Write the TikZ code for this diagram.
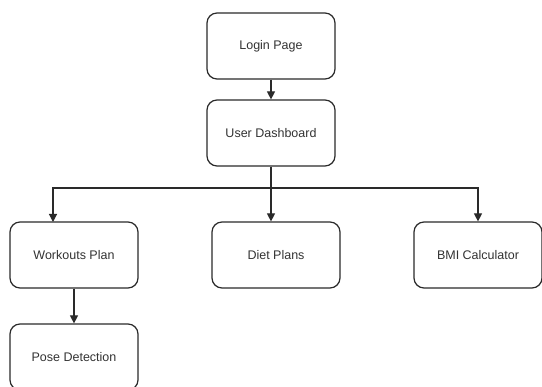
\documentclass[tikz,border=0pt]{standalone}
\usepackage{fontspec}
\setmainfont{Liberation Sans}
\usepackage{tikz}
\usetikzlibrary{arrows.meta}
\usetikzlibrary{calc}

\definecolor{edge}{HTML}{2A2A2A}
\definecolor{label}{HTML}{333333}

\begin{document}
\begin{tikzpicture}[x=1pt,y=-1pt,
	box/.style={shape=rectangle,draw=edge,line width=1.2pt,rounded corners=10pt,
		minimum width=128pt,minimum height=66pt,text=label,
		font=\fontsize{12.5pt}{14pt}\selectfont},
	>={Triangle[length=8pt,width=8pt]}]
	\clip (0,0) rectangle (542,387);
	\fill[white] (0,0) rectangle (542,387);
	\draw (271,46) node (login) [box] {Login Page};
	\draw (271,133) node (dash) [box] {User Dashboard};
	\draw (74,255) node (work) [box] {Workouts Plan};
	\draw (276,255) node (diet) [box] {Diet Plans};
	\draw (478,255) node (bmi) [box] {BMI Calculator};
	\draw (74,357) node (pose) [box] {Pose Detection};
	\coordinate (split) at (271,188);
	\coordinate (wtop) at (53,222);
	\begin{scope}[draw=edge,line width=1.2pt]
		\draw [->] (login) -- (dash);
		\draw (dash) -- (split);
		\draw [->] (split) -- (split |- diet.north);
		\draw [->] (split) -| (wtop);
		\draw [->] (split) -| (bmi.north);
		\draw [->] (work) -- (pose);
	\end{scope}
\end{tikzpicture}
\end{document}
